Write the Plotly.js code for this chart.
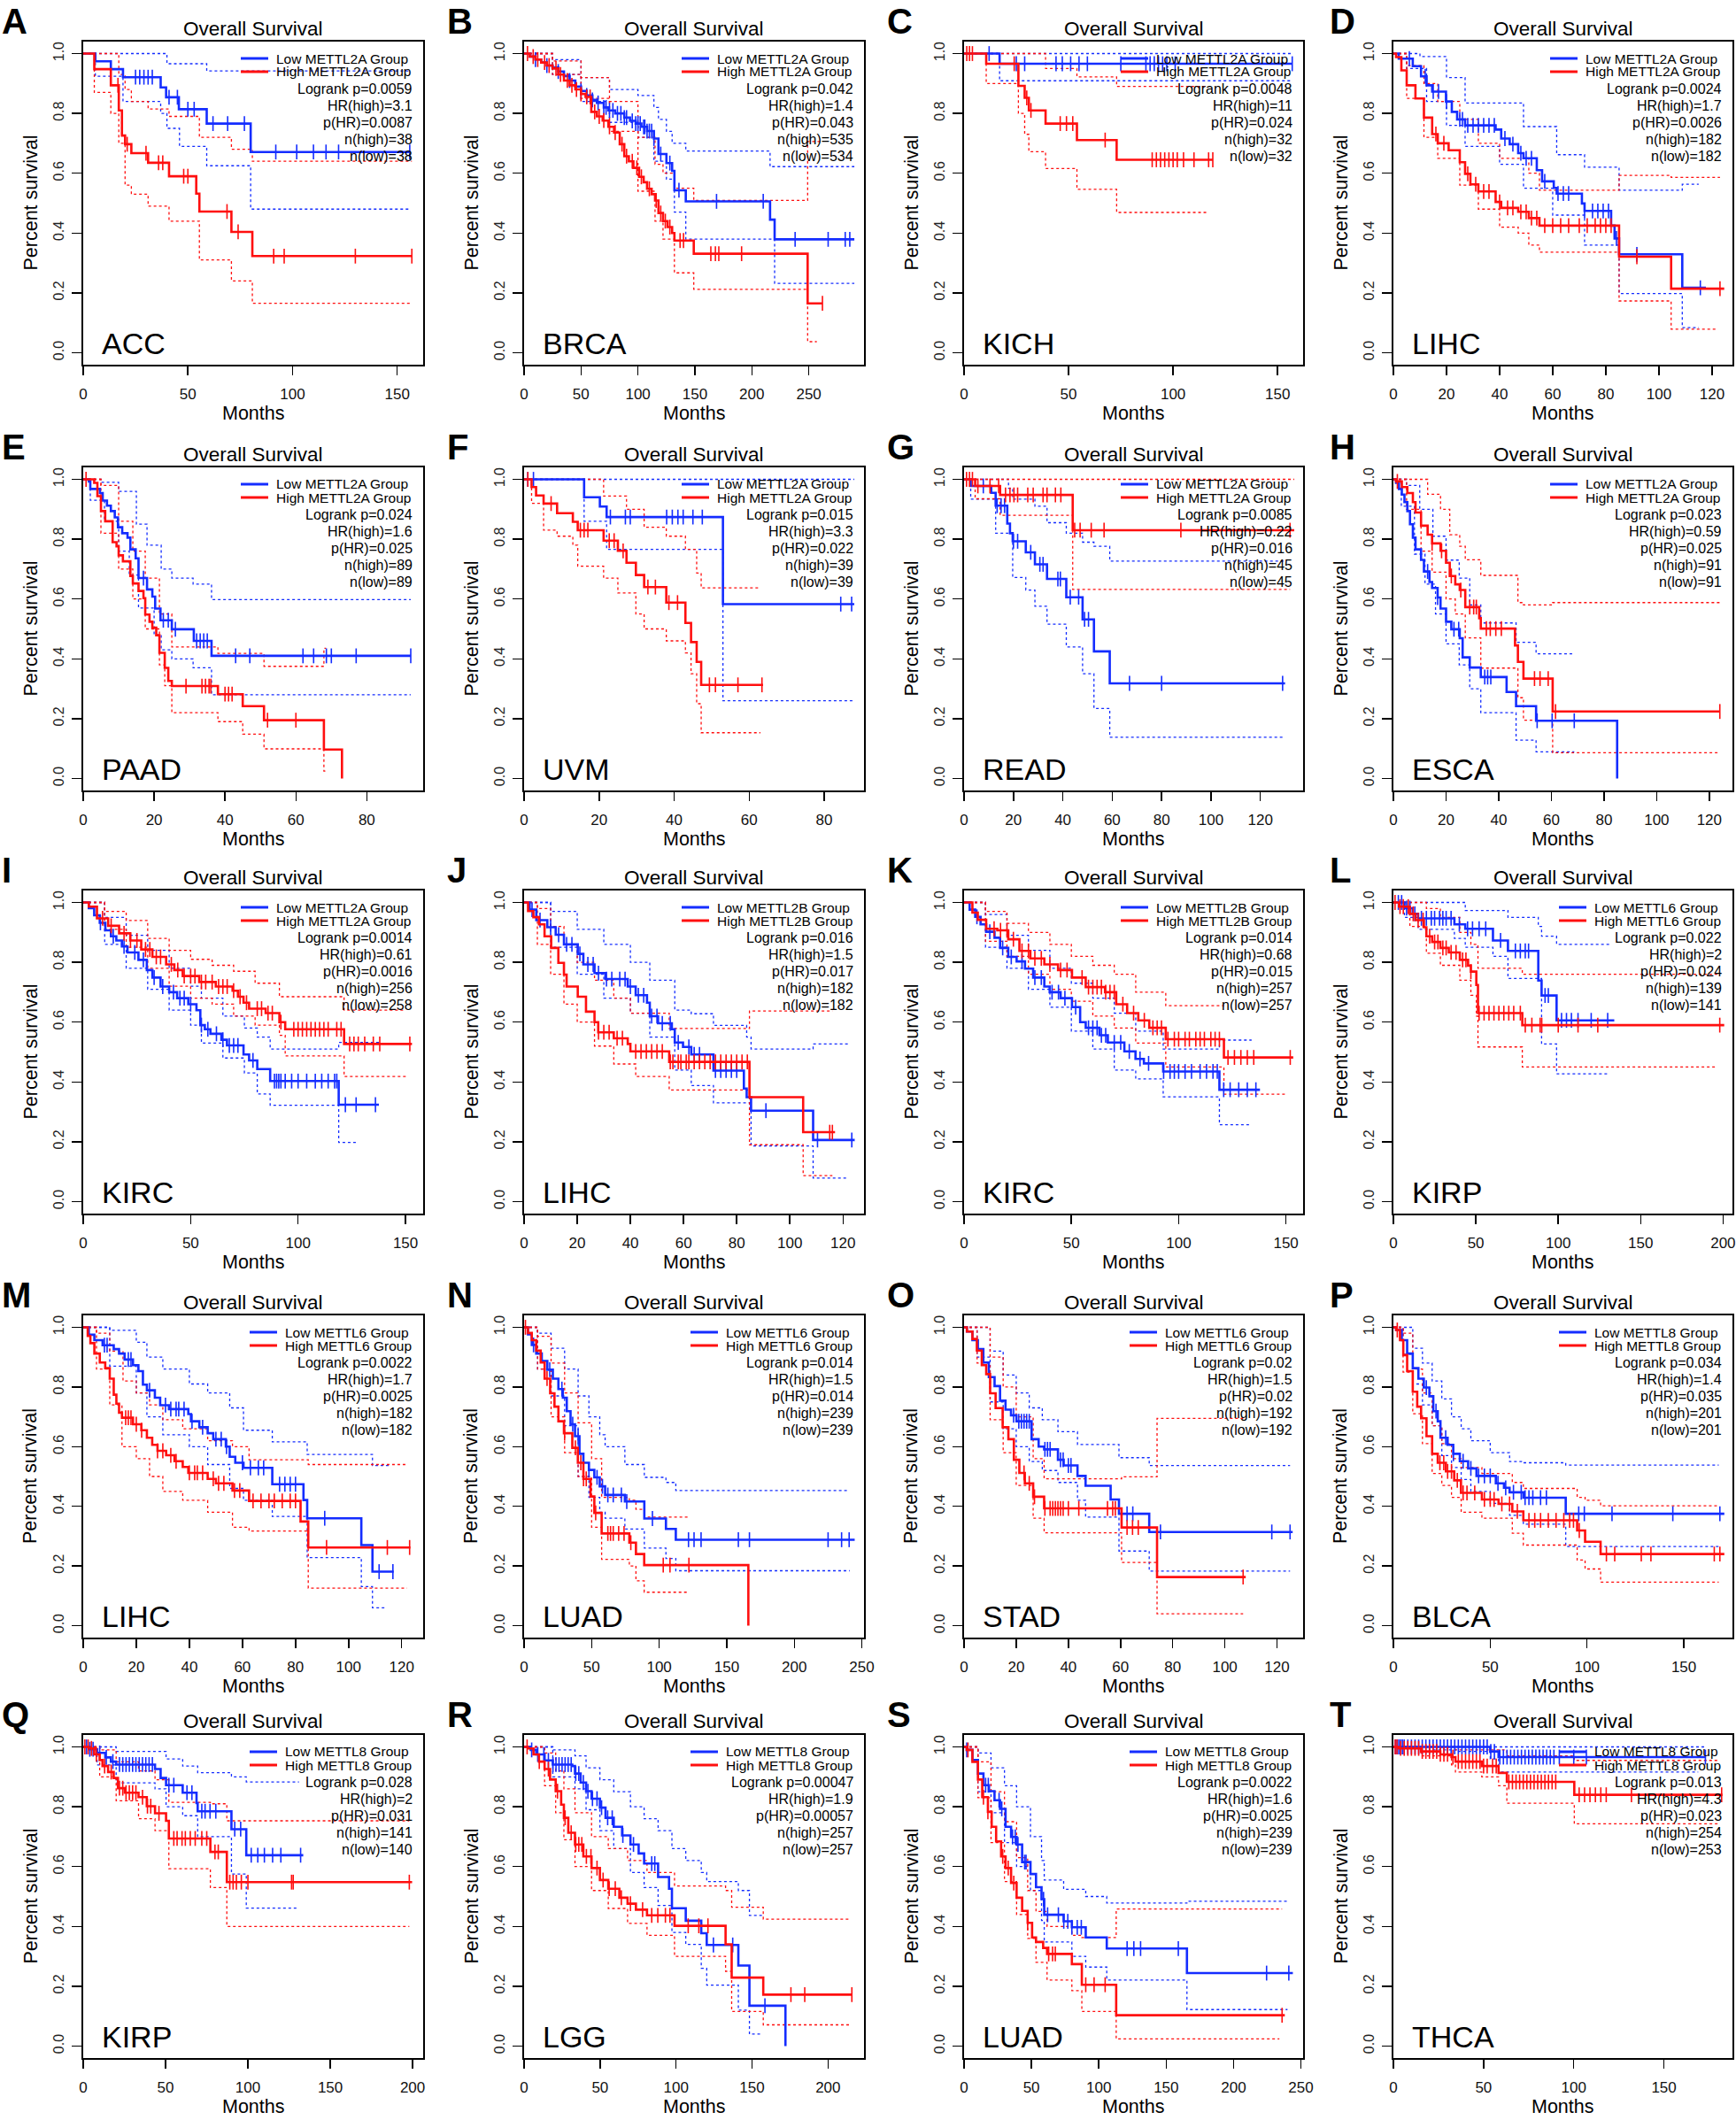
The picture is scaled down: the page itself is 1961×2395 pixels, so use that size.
<!DOCTYPE html>
<html>
<head>
<meta charset="utf-8">
<script src="https://cdn.plot.ly/plotly-3.0.1.min.js"></script>
<style>
  html, body { margin: 0; padding: 0; background: #fff; }
  #fig { width: 1961px; height: 2395px; }
</style>
</head>
<body>
<div id="fig"></div>
<script>
// ---- KM curves: [month, survival after step]; censor months; CI bounds ----
// A  ACC (METTL2A)
var aLow = [[0,1],[5.8,0.974],[13.2,0.948],[19,0.921],[37,0.887],[39.6,0.854],[45.7,0.814],[59,0.766],[80,0.671],[156,0.671]];
var aLowCens = [25,27,29,31,33,41,45,50,53,62,69,77,92,102,110,116,122,156];
var aHigh = [[0,1],[5.3,0.948],[13.2,0.894],[17,0.81],[18.5,0.726],[20,0.697],[23,0.667],[31,0.635],[41,0.59],[54,0.532],[55.5,0.472],[70.8,0.404],[80.8,0.323],[157,0.323]];
var aHighCens = [16.6,21,30,36,38,48,50,68.7,74,91,96,130,157];
var aLowUp = [[0,1],[40,0.966],[59,0.942],[156,0.942]];
var aLowDn = [[0,1],[5.8,0.924],[19,0.84],[37,0.8],[40,0.75],[46,0.69],[59,0.625],[80,0.48],[156,0.48]];
var aHighUp = [[0,1],[17,0.93],[20,0.88],[23,0.84],[31,0.815],[41,0.79],[55.5,0.72],[70.8,0.68],[80.8,0.64],[157,0.64]];
var aHighDn = [[0,1],[5.3,0.87],[13.2,0.8],[17,0.7],[20,0.56],[23,0.53],[31,0.49],[41,0.44],[55.5,0.31],[70.8,0.24],[80.8,0.165],[157,0.165]];

// B  BRCA (METTL2A)
var bLow = [[0,1],[5,0.99],[10,0.98],[15,0.97],[20,0.96],[25,0.953],[30,0.94],[35,0.925],[40,0.91],[45,0.89],[50,0.875],[55,0.86],[60,0.845],[64,0.835],[70,0.82],[74,0.81],[80,0.8],[88,0.786],[93,0.775],[98,0.766],[103,0.755],[108,0.741],[114,0.716],[118,0.664],[125,0.634],[130,0.608],[132,0.543],[142,0.506],[216,0.445],[220,0.379],[290,0.379]];
var bLowCens = [10,20,30,40,50,55,60,65,70,72,75,78,82,85,88,90,95,98,100,102,105,106,108,110,112,114,120,128,136,169,210,238,267,282,286];
var bHigh = [[0,1],[5,0.99],[10,0.98],[15,0.97],[20,0.96],[25,0.95],[30,0.93],[35,0.91],[40,0.894],[45,0.88],[50,0.865],[54,0.855],[59,0.805],[64,0.79],[69,0.776],[74,0.755],[79,0.736],[84,0.697],[88,0.657],[92,0.64],[96,0.618],[101,0.588],[105,0.57],[108,0.548],[112,0.53],[115,0.509],[118,0.467],[122,0.44],[126,0.42],[130,0.4],[132,0.375],[149,0.331],[249,0.165],[262,0.165]];
var bHighCens = [3,8,12,18,22,28,32,38,42,46,50,55,58,62,66,70,75,80,86,90,95,99,103,110,116,120,124,128,137,140,164,168,171,191,262];
var bLowUp = [[0,1],[25,0.98],[50,0.92],[75,0.88],[100,0.86],[114,0.82],[118,0.78],[125,0.74],[130,0.7],[142,0.674],[216,0.622],[290,0.622]];
var bLowDn = [[0,1],[25,0.93],[50,0.84],[75,0.77],[100,0.72],[114,0.64],[125,0.58],[132,0.47],[142,0.38],[220,0.232],[290,0.232]];
var bHighUp = [[0,1],[25,0.975],[50,0.92],[75,0.84],[100,0.72],[115,0.63],[122,0.6],[132,0.55],[149,0.509],[249,0.706],[262,0.706]];
var bHighDn = [[0,1],[25,0.93],[50,0.85],[75,0.74],[100,0.54],[115,0.44],[122,0.38],[132,0.267],[149,0.212],[249,0.037],[257,0.037]];

// C  KICH (METTL2A)
var cLow = [[0,1],[17,0.966],[157,0.966]];
var cLowCens = [12,25,29,44,47,51,55,59,75,87,89,91,93,95,97,101,157];
var cHigh = [[0,1],[10.6,0.966],[26,0.892],[29,0.852],[31,0.81],[39,0.766],[54,0.711],[73,0.645],[119,0.645]];
var cHighCens = [1.3,2.6,4,24,30,32,46,49,52,67.5,90,92,94,96,98,100,102,105,110,117,119];
var cLowUp = [[0,1],[157,1]];
var cLowDn = [[0,1],[17,0.909],[157,0.909]];
var cHighUp = [[0,1],[39,0.95],[54,0.922],[73,0.89],[116,0.89]];
var cHighDn = [[0,1],[10.6,0.9],[26,0.8],[29,0.73],[31,0.672],[39,0.616],[54,0.546],[73,0.469],[116,0.469]];

// D  LIHC (METTL2A)
var dLow = [[0,1],[2,0.983],[7.3,0.958],[10.4,0.924],[12.5,0.894],[14.6,0.873],[19.8,0.84],[22,0.805],[24,0.78],[27,0.76],[38.5,0.746],[40.6,0.716],[43.8,0.697],[47,0.667],[49,0.65],[54,0.61],[56,0.573],[60.4,0.551],[61.5,0.532],[71,0.499],[72,0.474],[82,0.425],[83.3,0.382],[85,0.329],[108.8,0.217],[117.7,0.217]];
var dLowCens = [6,12,15,17,20,25,26,28,30,32,34,36,38,42,45,48,50,52,57,62,64,66,72,75,77,79,81,84,91.7,115.6];
var dHigh = [[0,1],[1,0.988],[3,0.944],[5,0.894],[8.3,0.85],[11.5,0.786],[14.6,0.731],[16.7,0.7],[20.8,0.677],[25,0.637],[27,0.598],[29,0.563],[32,0.539],[38.5,0.504],[40.6,0.484],[47,0.471],[51,0.45],[55,0.425],[85,0.321],[104.6,0.214],[124.6,0.214]];
var dHighCens = [16,19,28,31,34,36,40,43,45,48,50,52,54,57,60,63,66,70,73,76,78,80,82,91.7,123];
var dLowUp = [[0,1],[10,0.99],[20,0.92],[27,0.835],[38.5,0.835],[49,0.756],[61.5,0.662],[72,0.62],[85,0.543],[108.8,0.563],[115,0.563]];
var dLowDn = [[0,1],[5,0.95],[12.5,0.84],[20,0.76],[27,0.69],[40,0.63],[49,0.55],[60,0.46],[72,0.36],[85,0.198],[108.8,0.084],[115,0.084]];
var dHighUp = [[0,1],[5,0.96],[11.5,0.9],[16.7,0.84],[25,0.78],[32,0.7],[40,0.65],[51,0.6],[55,0.543],[85,0.593],[104.6,0.586],[123,0.586]];
var dHighDn = [[0,1],[5,0.85],[11.5,0.72],[16.7,0.65],[25,0.56],[32,0.48],[40,0.42],[47,0.4],[51,0.36],[55,0.336],[85,0.173],[104.6,0.079],[122,0.079]];

// E  PAAD (METTL2A)
var eLow = [[0,1],[1.6,0.993],[2,0.968],[4.7,0.954],[5.5,0.929],[6.7,0.912],[7.8,0.894],[8.9,0.873],[9.8,0.84],[11,0.82],[12.5,0.805],[13.3,0.766],[14.8,0.736],[15.6,0.67],[18,0.632],[19.5,0.608],[20.3,0.568],[21.8,0.529],[25,0.499],[31.2,0.46],[36.2,0.41],[92.4,0.41]];
var eLowCens = [17,22.6,24,26,32,33,34,35,43,47,62,65,68.6,70,77,92.4];
var eHigh = [[0,1],[3.1,0.988],[4,0.944],[5,0.894],[6.2,0.86],[8.3,0.79],[9.4,0.776],[10,0.746],[11.2,0.726],[13.3,0.677],[14,0.652],[15.6,0.627],[17,0.603],[17.5,0.548],[18.7,0.524],[19.5,0.504],[20.6,0.479],[21.5,0.42],[23,0.37],[24,0.326],[25,0.309],[38,0.282],[45,0.242],[51,0.195],[67.9,0.097],[73,0]];
var eHighCens = [0.8,29,33.5,34.5,35.5,36,40,41,42,52,60];
var eLowUp = [[0,1],[5,0.99],[10,0.96],[15,0.85],[18,0.78],[22,0.7],[25,0.67],[31,0.65],[36.2,0.598],[92.4,0.598]];
var eLowDn = [[0,1],[2,0.93],[6,0.86],[10,0.76],[13,0.68],[15.6,0.57],[20,0.48],[22,0.43],[25,0.4],[31,0.37],[36.2,0.28],[92.4,0.28]];
var eHighUp = [[0,1],[5,0.98],[10,0.86],[14,0.76],[17.5,0.67],[21.5,0.55],[25,0.44],[38,0.418],[51,0.375],[67.9,0.435],[68.5,0.435]];
var eHighDn = [[0,1],[5,0.82],[10,0.7],[14,0.6],[17.5,0.5],[21.5,0.38],[23,0.31],[25,0.22],[38,0.19],[45,0.148],[51,0.099],[67.9,0.025],[68.5,0.025]];

// F  UVM (METTL2A)
var fLow = [[0,1],[16,0.94],[20.2,0.909],[22,0.874],[53,0.583],[88,0.583]];
var fLowCens = [1,2.5,23,27,28.3,38,39.5,41,42.4,45,47.5,84.4,87.3];
var fHigh = [[0,1],[2,0.974],[3.2,0.946],[5.2,0.919],[8.8,0.887],[13,0.858],[14.3,0.83],[21.2,0.795],[25,0.761],[27.3,0.721],[29.8,0.68],[32,0.64],[37.9,0.588],[43,0.52],[44.5,0.456],[46,0.39],[47.2,0.313],[63.7,0.313]];
var fHighCens = [1,7.2,15,16,17,22.7,24,26.4,33,35,38.6,40.9,49.4,51,57,63.4];
var fLowUp = [[0,1],[88,1]];
var fLowDn = [[0,1],[16,0.86],[22,0.766],[53,0.26],[88,0.26]];
var fHighUp = [[0,1],[13,1],[21.2,0.944],[27.3,0.9],[32,0.84],[37.9,0.81],[43,0.766],[46,0.687],[47.2,0.637],[62.5,0.637]];
var fHighDn = [[0,1],[2,0.92],[5.2,0.83],[8.8,0.81],[13,0.78],[14.3,0.71],[21.2,0.67],[25,0.62],[29.8,0.55],[32,0.5],[37.9,0.46],[43,0.42],[44.5,0.35],[46,0.25],[47.2,0.153],[63,0.153]];

// G  READ (METTL2A)
var gLow = [[0,1],[2.7,0.978],[11,0.955],[12.8,0.912],[17.5,0.852],[18.6,0.82],[19.7,0.793],[25,0.756],[28.7,0.716],[33.6,0.667],[41.4,0.606],[48,0.532],[52.6,0.425],[59,0.318],[130,0.318]];
var gLowCens = [7.8,13.4,15,16.4,20,21.7,27,30.7,32,38,39,43,46.4,48.8,50.4,67,80,129];
var gHigh = [[0,1],[4.5,0.978],[14.6,0.948],[44,0.83],[133.7,0.83]];
var gHighCens = [1,2.2,3.4,5.6,10.5,14,16.8,18.6,20.2,21.7,25.8,28,32,33.6,37,39.2,44.8,47,51.5,56.7,87.8,132];
var gLowUp = [[0,1],[18,0.97],[19.7,0.934],[28.7,0.91],[33.6,0.855],[41.4,0.82],[48,0.79],[52.6,0.776],[59,0.727],[130,0.727]];
var gLowDn = [[0,1],[2.7,0.934],[12.8,0.82],[19.7,0.672],[25,0.63],[28.7,0.576],[33.6,0.516],[41.4,0.44],[48,0.35],[52.6,0.234],[59,0.138],[129,0.138]];
var gHighUp = [[0,1],[133.7,1]];
var gHighDn = [[0,1],[4.5,0.935],[14.6,0.88],[44,0.632],[132,0.632]];

// H  ESCA (METTL2A)
var hLow = [[0,1],[1,0.988],[2.1,0.968],[3.2,0.949],[4.2,0.924],[5.3,0.894],[6.3,0.85],[7.4,0.805],[8.4,0.766],[10.5,0.731],[11.6,0.692],[13.7,0.657],[14.7,0.637],[16.8,0.605],[17.9,0.568],[20,0.524],[22,0.499],[25.2,0.469],[26.3,0.405],[29,0.371],[33.2,0.339],[43,0.289],[46.6,0.242],[54.2,0.193],[85,0]];
var hLowCens = [13,16.8,23,24.8,34.7,35.8,37,54.6,60.3,68.7];
var hHigh = [[0,1],[1,0.993],[3.2,0.974],[5.3,0.954],[7.4,0.924],[8.4,0.889],[10.5,0.845],[13,0.815],[14.7,0.786],[17.9,0.761],[20,0.721],[21.4,0.677],[23.5,0.649],[25.2,0.63],[27.3,0.573],[32.6,0.536],[33.2,0.501],[46.2,0.445],[47.3,0.39],[49.4,0.334],[60.5,0.224],[124,0.224]];
var hHighCens = [1.5,14.7,18.3,22,25.6,29,30.5,31.5,35.3,36.8,38.9,41,53.6,55.7,58.8,61.6,124];
var hLowUp = [[0,1],[5,0.98],[10,0.9],[15,0.81],[20,0.73],[25,0.67],[29,0.58],[33.2,0.52],[46.6,0.455],[54.2,0.417],[68.7,0.417]];
var hLowDn = [[0,1],[3,0.91],[8,0.75],[12,0.65],[16,0.55],[20,0.45],[25,0.38],[29,0.3],[33.2,0.22],[46.6,0.128],[54.2,0.089],[68.7,0.089]];
var hHighUp = [[0,1],[5.3,1],[13,0.95],[17.9,0.9],[21.4,0.815],[25.2,0.776],[27.3,0.731],[33.2,0.679],[47.3,0.588],[49.4,0.58],[60.5,0.588],[124,0.588]];
var hHighDn = [[0,1],[5,0.9],[10.5,0.76],[14.7,0.69],[20,0.6],[23.5,0.55],[27.3,0.47],[33.2,0.369],[47.3,0.27],[49.4,0.195],[60.5,0.086],[124,0.086]];

// I  KIRC (METTL2A)
var iLow = [[0,1],[2.6,0.981],[5.1,0.957],[7.7,0.932],[10.3,0.907],[12.9,0.887],[15.4,0.873],[18,0.853],[20.6,0.833],[25.7,0.808],[29.6,0.774],[32.2,0.749],[36,0.719],[40,0.7],[43.7,0.68],[48.9,0.66],[52.7,0.64],[54.5,0.59],[56.6,0.576],[59.2,0.561],[64.3,0.541],[66.9,0.522],[74.6,0.492],[77.2,0.472],[81,0.443],[87,0.403],[118.9,0.324],[137.6,0.324]];
var iLowCens = [8,14,19,24,28,33,37,42,45,47,50,55,58,62,65,68,70,72,79,89,90,91,92,94,97,100,104,108,111,114,117,118,122,127,136];
var iHigh = [[0,1],[2.6,0.986],[6.4,0.947],[11.6,0.922],[16.7,0.897],[21.9,0.873],[27,0.843],[32.2,0.818],[38.6,0.793],[42.4,0.774],[46.3,0.754],[54,0.734],[61.7,0.719],[69.5,0.705],[72,0.685],[74.6,0.665],[77.2,0.645],[84.9,0.63],[91.3,0.6],[94,0.576],[121.4,0.527],[153,0.527]];
var iHighCens = [9,13,19,22,25,29,31,34,36,41,44,47,50,52,55,57,60,63,65,67,70,73,76,81,83,86,88,92,98,100,102,104,106,108,110,112,114,118,120,124,126,128,131,135,138,152];
var iLowUp = [[0,1],[10,0.95],[20,0.89],[30,0.84],[40,0.78],[50,0.72],[55,0.68],[65,0.62],[75,0.58],[81,0.55],[87,0.51],[118.9,0.532],[137.6,0.532]];
var iLowDn = [[0,1],[10,0.86],[20,0.78],[30,0.71],[40,0.64],[50,0.59],[55,0.53],[65,0.48],[75,0.43],[81,0.36],[87,0.322],[118.9,0.198],[127,0.198]];
var iHighUp = [[0,1],[10,0.97],[20,0.94],[30,0.88],[40,0.84],[50,0.81],[60,0.79],[70,0.77],[80,0.73],[91.3,0.685],[121.4,0.64],[150,0.64]];
var iHighDn = [[0,1],[10,0.91],[20,0.85],[30,0.78],[40,0.72],[50,0.68],[60,0.66],[70,0.62],[80,0.59],[91.3,0.556],[94,0.487],[121.4,0.418],[151,0.418]];

// J  LIHC (METTL2B)
var jLow = [[0,1],[2.1,0.976],[4.6,0.941],[8.75,0.917],[11.9,0.892],[15,0.86],[20.2,0.828],[22.3,0.793],[26.5,0.764],[30.6,0.744],[39,0.719],[42,0.69],[46.25,0.665],[47.3,0.62],[50.4,0.596],[55.6,0.576],[56.7,0.532],[59.8,0.517],[62.9,0.492],[71.25,0.438],[82.7,0.378],[83.75,0.349],[85.4,0.304],[108.75,0.206],[124.4,0.206]];
var jLowCens = [3,6,10,13,16,18,21,24,26,28,31,33,36,38,40,43,45,48,50,52,55,58,62,64,66,72,74,76,78,80,91,110.4,123.3];
var jHigh = [[0,1],[1.5,0.971],[3.5,0.951],[5.6,0.927],[7.7,0.887],[10.2,0.848],[12.9,0.798],[15,0.759],[16,0.719],[20.2,0.685],[23.3,0.635],[26.5,0.6],[27.9,0.566],[33.75,0.546],[39,0.527],[40,0.502],[54.6,0.467],[84.8,0.349],[105,0.232],[117,0.232]];
var jHighCens = [28,30,32,35,37,42,44,46,48,50,52,55,56,58,59,61,62,64,66,68,70,72,74,76,78,80,82,84,115,116];
var jLowUp = [[0,1],[10,0.97],[20,0.91],[30,0.86],[40,0.8],[47.3,0.74],[56.7,0.64],[62.9,0.628],[71.25,0.589],[83.75,0.55],[85.4,0.51],[108.75,0.527],[122,0.527]];
var jLowDn = [[0,1],[10,0.85],[20,0.76],[30,0.68],[40,0.63],[47.3,0.55],[56.7,0.44],[62.9,0.388],[71.25,0.33],[85.4,0.186],[108.75,0.079],[122,0.079]];
var jHighUp = [[0,1],[5,0.98],[10,0.92],[15,0.86],[20,0.8],[26.5,0.74],[33.75,0.68],[40,0.63],[54.6,0.579],[84.8,0.637],[116,0.637]];
var jHighDn = [[0,1],[5,0.86],[10,0.76],[15,0.66],[20,0.6],[26.5,0.52],[33.75,0.46],[42,0.418],[54.6,0.373],[84.8,0.19],[105,0.087],[116,0.087]];

// K  KIRC (METTL2B)
var kLow = [[0,1],[2.6,0.976],[5.2,0.952],[7.7,0.927],[10.3,0.902],[14.2,0.882],[16.8,0.848],[20.6,0.818],[24.5,0.803],[28.4,0.779],[32.2,0.749],[37.4,0.719],[39.9,0.7],[45,0.68],[50.3,0.65],[54.1,0.6],[56.7,0.581],[63.1,0.556],[67,0.532],[74.7,0.502],[79.9,0.477],[83.8,0.462],[92.8,0.435],[119,0.374],[137.9,0.374]];
var kLowCens = [6,12,18,22,27,33,36,41,44,47,52,58,60,62,64,66,70,73,77,82,86,93,96,98,100,103,106,110,113,116,118,121,124,128,132,136];
var kHigh = [[0,1],[3.9,0.966],[6.4,0.942],[10.3,0.912],[15.5,0.907],[20.6,0.877],[25.8,0.838],[30.9,0.813],[37.4,0.793],[43.8,0.774],[50.3,0.749],[56.7,0.717],[65.7,0.7],[70.9,0.66],[76,0.63],[81.2,0.606],[86.3,0.581],[94,0.543],[121.1,0.482],[153.4,0.482]];
var kHighCens = [14,17,20,23,27,30,33,36,40,45,48,55,58,60,62,64,66,68,70,74,79,84,88,90,92,95,98,100,103,105,108,110,112,115,117,119,123,126,129,132,135,152];
var kLowUp = [[0,1],[10,0.96],[20,0.89],[30,0.84],[40,0.78],[50,0.73],[60,0.68],[70,0.63],[80,0.57],[92.8,0.51],[119,0.54],[134,0.54]];
var kLowDn = [[0,1],[10,0.85],[20,0.78],[30,0.71],[40,0.65],[50,0.57],[60,0.51],[70,0.44],[80,0.41],[92.8,0.35],[119,0.257],[134,0.257]];
var kHighUp = [[0,1],[10,0.97],[20,0.93],[30,0.9],[40,0.86],[50,0.82],[60,0.79],[70,0.76],[80,0.7],[94,0.655],[121.1,0.655]];
var kHighDn = [[0,1],[10,0.87],[20,0.82],[30,0.76],[40,0.71],[50,0.67],[60,0.62],[70,0.58],[80,0.53],[94,0.45],[121.1,0.359],[150,0.359]];

// L  KIRP (METTL6)
var lLow = [[0,1],[6.7,0.981],[11.7,0.962],[15,0.947],[37,0.927],[43.6,0.912],[60.4,0.873],[69.5,0.838],[87.9,0.739],[89.9,0.689],[99,0.606],[134,0.606]];
var lLowCens = [3,5,8,10,13,17,20,23,25,28,30,32,35,40,45,48,52,56,65,74,77,80,82,92,94,102,105,108,112,120,130];
var lHigh = [[0,1],[3.4,0.986],[10,0.962],[13.4,0.941],[18.5,0.917],[20,0.887],[23.5,0.868],[28.5,0.848],[33.6,0.833],[40.3,0.808],[45.3,0.789],[47,0.769],[50.3,0.724],[51.3,0.63],[78.2,0.59],[200.7,0.59]];
var lHighCens = [1,4,6,9,12,15,18,22,25,27,30,32,35,38,42,44,47,52,55,58,61,64,67,70,73,77,80,84,89,90,100,112,124,198];
var lLowUp = [[0,1],[15,1],[43.6,0.973],[69.5,0.95],[87.9,0.92],[89.9,0.887],[99,0.86],[131,0.86]];
var lLowDn = [[0,1],[6.7,0.95],[15,0.91],[37,0.88],[43.6,0.85],[60.4,0.82],[69.5,0.746],[89.9,0.527],[99,0.427],[131,0.427]];
var lHighUp = [[0,1],[20,0.98],[28.5,0.95],[40.3,0.9],[47,0.86],[51.3,0.78],[78.2,0.76],[197,0.76]];
var lHighDn = [[0,1],[10,0.92],[20,0.83],[28.5,0.79],[40.3,0.74],[47,0.69],[50.3,0.62],[51.3,0.517],[78.2,0.45],[196,0.45]];

// M  LIHC (METTL6)
var mLow = [[0,1],[2.1,0.975],[4.2,0.957],[7.3,0.94],[11.5,0.927],[13.5,0.912],[15.6,0.892],[18.75,0.873],[20.8,0.853],[22.5,0.808],[24,0.789],[27,0.764],[29,0.739],[32.3,0.726],[39.6,0.709],[40.6,0.685],[43.75,0.665],[46.9,0.645],[49,0.625],[53.75,0.6],[55.2,0.566],[57.3,0.546],[60.4,0.529],[71.25,0.474],[83,0.421],[84.4,0.36],[104.8,0.27],[109,0.181],[117,0.181]];
var mLowCens = [8,9,17,18,25,31,33,35,36,38,41,45,50,52,54,60,63,66,68,74,76,78,80,91,111.5,116.7];
var mHigh = [[0,1],[1.7,0.971],[2.7,0.947],[4.2,0.912],[6.25,0.882],[8.3,0.863],[10,0.828],[11.5,0.774],[12.5,0.744],[13.5,0.714],[14.6,0.697],[18.75,0.675],[21.9,0.655],[24,0.63],[26,0.606],[28,0.586],[31.25,0.571],[34.4,0.551],[37.5,0.532],[39.6,0.512],[46.9,0.492],[50,0.477],[56.25,0.453],[62.5,0.418],[81.9,0.349],[84.8,0.262],[123.3,0.262]];
var mHighCens = [16,17,18,20,22,28,30,33,35,40,42,43,45,49,51,53,57,59,64,67,70,72,75,78,80,91.7,114.6,123];
var mLowUp = [[0,1],[10,0.99],[20,0.95],[24,0.9],[30,0.86],[40,0.81],[46.9,0.78],[55.2,0.73],[60.4,0.655],[71.25,0.616],[84.4,0.574],[104.8,0.574],[109,0.537],[116,0.537]];
var mLowDn = [[0,1],[10,0.87],[20,0.78],[24,0.7],[30,0.64],[40,0.6],[46.9,0.54],[55.2,0.46],[60.4,0.42],[71.25,0.366],[84.4,0.228],[104.8,0.131],[109,0.06],[114,0.06]];
var mHighUp = [[0,1],[5,0.98],[10,0.92],[15,0.82],[20,0.78],[25,0.74],[30,0.69],[37.5,0.66],[46.9,0.62],[56.25,0.6],[62.5,0.556],[84.8,0.54],[122,0.54]];
var mHighDn = [[0,1],[5,0.86],[10,0.74],[14.6,0.6],[20,0.56],[25,0.5],[30,0.45],[37.5,0.42],[46.9,0.38],[56.25,0.33],[62.5,0.317],[84.8,0.126],[122,0.126]];

// N  LUAD (METTL6)
var nLow = [[0,1],[2.9,0.976],[5.7,0.941],[9,0.912],[13.1,0.887],[17.2,0.858],[21.3,0.828],[25.4,0.793],[28.7,0.764],[31.6,0.719],[34.4,0.675],[37.7,0.635],[41,0.576],[43.9,0.546],[48,0.522],[52,0.497],[56,0.467],[60,0.438],[74.6,0.416],[89,0.359],[105,0.324],[112.3,0.288],[244.7,0.288]];
var nLowCens = [7,19,28,36,40,44,48,54,58,62,66,72,76,95,121.7,125.8,131,158.6,166.8,225,235,240.6];
var nHigh = [[0,1],[2.9,0.981],[5.7,0.957],[9,0.922],[12.3,0.882],[15.2,0.828],[19.3,0.779],[22.5,0.734],[25.4,0.685],[29.5,0.645],[35.7,0.596],[39.8,0.546],[43.9,0.492],[49.2,0.433],[52,0.378],[57.4,0.309],[77.9,0.278],[82.8,0.24],[88.9,0.203],[166,0]];
var nHighCens = [1,17,30,38,42,44,46,53,62,64,66,70,74,79,103,108,122];
var nLowUp = [[0,1],[10,0.98],[20,0.93],[30,0.86],[40,0.77],[48,0.7],[56,0.64],[60,0.6],[74.6,0.54],[89,0.497],[105,0.48],[112.3,0.453],[240,0.453]];
var nLowDn = [[0,1],[10,0.86],[20,0.77],[30,0.67],[40,0.5],[48,0.43],[56,0.38],[60,0.36],[74.6,0.324],[89,0.26],[105,0.225],[112.3,0.184],[241,0.184]];
var nHighUp = [[0,1],[10,0.97],[20,0.88],[30,0.78],[40,0.68],[50,0.56],[57.4,0.43],[77.9,0.42],[82.8,0.39],[88.9,0.364],[122,0.364]];
var nHighDn = [[0,1],[10,0.86],[20,0.7],[30,0.58],[40,0.5],[50,0.33],[57.4,0.222],[77.9,0.2],[82.8,0.15],[88.9,0.112],[122,0.112]];

// O  STAD (METTL6)
var oLow = [[0,1],[1.1,0.986],[3.2,0.957],[5.3,0.927],[7.4,0.882],[9.5,0.833],[11.7,0.803],[13.8,0.754],[15.9,0.724],[18,0.705],[20.1,0.685],[25.9,0.625],[28.6,0.6],[30.7,0.591],[36,0.556],[38.2,0.537],[43.5,0.502],[46.6,0.469],[56.2,0.423],[59.4,0.375],[71,0.314],[126,0.314]];
var oLowCens = [19,21,22,23,24,25,31,32,33,37,38,40,41,62.5,64.7,75.3,118,125];
var oHigh = [[0,1],[1.1,0.986],[3.2,0.961],[4.9,0.922],[6.8,0.873],[8.5,0.843],[10,0.779],[12.1,0.729],[14.8,0.665],[17,0.625],[19.1,0.556],[21.2,0.512],[23.3,0.477],[26.5,0.432],[30.7,0.393],[60.4,0.329],[74,0.163],[108,0.163]];
var oHighCens = [23,25,27,31,33,34,35,36,37,38,40,44,55,57,58,62.5,64.6,66.8,107];
var oLowUp = [[0,1],[5,1],[10,0.92],[15,0.84],[20,0.78],[25,0.73],[30,0.69],[36,0.65],[43.5,0.607],[59.4,0.563],[71,0.537],[125,0.537]];
var oLowDn = [[0,1],[5,0.9],[10,0.75],[15,0.66],[20,0.6],[25,0.55],[30,0.52],[36,0.48],[43.5,0.42],[46.6,0.364],[59.4,0.25],[71,0.183],[125,0.183]];
var oHighUp = [[0,1],[5,1],[10,0.9],[15,0.8],[20,0.7],[26.5,0.56],[30.7,0.492],[60.4,0.499],[74,0.695],[107,0.695]];
var oHighDn = [[0,1],[5,0.88],[10,0.69],[15,0.58],[20,0.47],[26.5,0.36],[30.7,0.311],[60.4,0.212],[74,0.04],[107,0.04]];

// P  BLCA (METTL8)
var pLow = [[0,1],[1.4,0.991],[4.3,0.957],[7.1,0.912],[10,0.863],[12.9,0.828],[15.7,0.798],[18.6,0.769],[20.6,0.719],[22.9,0.685],[24.3,0.63],[28,0.606],[30.9,0.576],[34.3,0.551],[38.6,0.527],[42.9,0.502],[52.9,0.477],[57.1,0.462],[60,0.447],[67.1,0.429],[89,0.375],[170.9,0.375]];
var pLowCens = [17,22,27,31,36,40,44,47,50,54,58,62,66,68,70,72,76,79,95.7,98.6,112.9,144.3,168.6];
var pHigh = [[0,1],[1.4,0.991],[3.4,0.957],[5.1,0.907],[7.1,0.853],[10,0.784],[12.3,0.734],[14.3,0.695],[17.1,0.635],[20,0.576],[22.9,0.546],[27.1,0.517],[31.4,0.487],[34.9,0.445],[45.7,0.423],[54.3,0.408],[61.4,0.383],[67.1,0.353],[94.9,0.319],[99,0.281],[107,0.24],[170.9,0.24]];
var pHighCens = [2,24,26,28,30,33,36,38,42,47,50,52,56,60,64,70,73,76,80,84,88,91,93,96,110,114.3,128,133,165.7,168.6];
var pLowUp = [[0,1],[5,1],[10,0.93],[15,0.88],[20,0.82],[25,0.76],[30,0.7],[35,0.66],[40,0.62],[50,0.58],[60,0.55],[67.1,0.546],[89,0.538],[168,0.538]];
var pLowDn = [[0,1],[5,0.91],[10,0.81],[15,0.74],[20,0.67],[25,0.57],[30,0.53],[35,0.49],[40,0.45],[50,0.41],[60,0.37],[67.1,0.34],[89,0.265],[168,0.265]];
var pHighUp = [[0,1],[5,0.98],[10,0.86],[15,0.78],[20,0.67],[25,0.61],[30,0.56],[35,0.53],[45.7,0.51],[61.4,0.48],[67.1,0.46],[94.9,0.43],[99,0.42],[107,0.402],[168,0.402]];
var pHighDn = [[0,1],[5,0.85],[10,0.71],[15,0.61],[20,0.51],[25,0.47],[30,0.43],[35,0.38],[45.7,0.36],[61.4,0.31],[67.1,0.27],[94.9,0.22],[99,0.19],[107,0.146],[168,0.146]];

// Q  KIRP (METTL8)
var qLow = [[0,1],[3.4,0.992],[8.4,0.98],[13.4,0.965],[16.8,0.951],[20,0.941],[43.6,0.926],[47,0.896],[50.3,0.872],[60.4,0.847],[68.8,0.812],[69.5,0.785],[90,0.725],[99,0.638],[133.6,0.638]];
var qLowCens = [2,4,6,10,14,18,22,24,26,28,30,32,34,36,38,40,42,52,55,63,66,72,74,77,80.5,92,95.6,102,106,110,115,120,132];
var qHigh = [[0,1],[3.4,0.995],[6.7,0.975],[10,0.956],[11.7,0.936],[15.1,0.916],[18.5,0.896],[21.1,0.862],[25.2,0.847],[33.6,0.832],[38.6,0.802],[43.6,0.778],[50.3,0.753],[52,0.694],[77.2,0.649],[87.2,0.548],[199.7,0.548]];
var qHighCens = [1,3,5,8,13,17,22,24,26,28,30,32,36,39,41,46,55,57,60,62,65,68,72,75,80,82,89,91,93,96,100,126.5,127.5,198];
var qLowUp = [[0,1],[16.8,1],[20,0.985],[50.3,0.96],[60.4,0.936],[69.5,0.914],[90,0.9],[99,0.883],[131,0.883]];
var qLowDn = [[0,1],[8.4,0.94],[20,0.88],[43.6,0.86],[50.3,0.8],[60.4,0.77],[69.5,0.7],[90,0.575],[99,0.461],[131,0.461]];
var qHighUp = [[0,1],[10,0.99],[20,0.95],[33.6,0.92],[43.6,0.89],[52,0.815],[77.2,0.81],[87.2,0.753],[198,0.753]];
var qHighDn = [[0,1],[10,0.9],[20,0.82],[33.6,0.76],[43.6,0.72],[52,0.593],[77.2,0.53],[87.2,0.4],[198,0.4]];

// R  LGG (METTL8)
var rLow = [[0,1],[4.4,0.99],[8,0.975],[13.5,0.955],[18.9,0.941],[31.7,0.936],[33.5,0.911],[37.2,0.881],[40.8,0.852],[44.4,0.827],[49.9,0.797],[53.6,0.763],[59,0.733],[64.5,0.704],[70,0.674],[75.4,0.644],[79,0.61],[88.2,0.565],[95.4,0.526],[97.3,0.461],[106.4,0.419],[116.6,0.377],[120.2,0.338],[141,0.269],[148.3,0.135],[172,0]];
var rLowCens = [5,9,13,16,19,21,23,25,27,29,31,34,36,39,42,45,48,51,55,58,65,72,84,86,124.6,137.3,158.5];
var rHigh = [[0,1],[2.5,0.995],[6.2,0.975],[9.8,0.951],[13.5,0.926],[17.1,0.891],[20.8,0.852],[24.4,0.807],[26.2,0.763],[29.1,0.713],[33.5,0.674],[39,0.634],[44.4,0.595],[49.9,0.555],[55.4,0.526],[62.7,0.496],[68.1,0.476],[73.6,0.456],[80.9,0.437],[99,0.402],[132.6,0.34],[136.6,0.229],[157.4,0.172],[215.7,0.172]];
var rHighCens = [2,10,16,22,27,31,34,36,38,41,44,48,52,56,60,64,70,78,84,88,93,96,108,115,121,175.6,184.7,215.7];
var rLowUp = [[0,1],[18.9,0.99],[33.5,0.97],[40.8,0.93],[49.9,0.89],[59,0.85],[70,0.8],[79,0.76],[88.2,0.72],[97.3,0.66],[106.4,0.62],[116.6,0.58],[120.2,0.55],[141,0.52],[148.3,0.437],[157,0.437]];
var rLowDn = [[0,1],[18.9,0.9],[33.5,0.86],[40.8,0.79],[49.9,0.72],[59,0.66],[70,0.58],[79,0.53],[88.2,0.47],[97.3,0.38],[106.4,0.34],[116.6,0.26],[120.2,0.204],[141,0.12],[148.3,0.04],[157,0.04]];
var rHighUp = [[0,1],[13.5,0.98],[20.8,0.92],[26.2,0.86],[33.5,0.78],[44.4,0.7],[55.4,0.66],[68.1,0.62],[80.9,0.58],[99,0.535],[132.6,0.52],[136.6,0.464],[157.4,0.424],[215,0.424]];
var rHighDn = [[0,1],[13.5,0.87],[20.8,0.78],[26.2,0.69],[33.5,0.6],[44.4,0.52],[55.4,0.46],[68.1,0.41],[80.9,0.37],[99,0.3],[132.6,0.25],[136.6,0.116],[157.4,0.071],[215,0.071]];

// S  LUAD (METTL8)
var sLow = [[0,1],[2,0.99],[6.2,0.956],[10.3,0.911],[14.4,0.872],[18.5,0.852],[22.6,0.822],[26.7,0.793],[30.8,0.733],[34.9,0.699],[39,0.674],[43.1,0.615],[49.3,0.575],[53.4,0.531],[57.5,0.491],[59.5,0.439],[73.9,0.417],[80,0.397],[90.3,0.363],[105.9,0.326],[165.4,0.244],[244,0.244]];
var sLowCens = [2,16,18,26,28,36,38,40,45,46,59,62,70,74,77,80,84,87,121,126,131,159,224.5,241];
var sHigh = [[0,1],[2,0.99],[6.2,0.95],[10.3,0.891],[13.5,0.832],[17.7,0.783],[20.5,0.733],[23.8,0.684],[27.5,0.634],[30.8,0.595],[34.9,0.545],[39,0.496],[43.1,0.452],[47.2,0.412],[50.5,0.363],[53.4,0.348],[58.7,0.328],[61.6,0.308],[80,0.274],[87.4,0.205],[112.9,0.103],[238,0.103]];
var sHighCens = [2.9,14.4,17.7,28.7,32.8,36.9,47.2,62.8,65.7,67.7,90.3,96.5,104.7,236];
var sLowUp = [[0,1],[10.3,0.98],[20,0.93],[30,0.87],[39,0.8],[49.3,0.7],[57.5,0.62],[59.5,0.555],[73.9,0.524],[90.3,0.5],[105.9,0.478],[165.4,0.484],[241,0.484]];
var sLowDn = [[0,1],[10.3,0.85],[20,0.78],[30,0.68],[39,0.6],[49.3,0.52],[57.5,0.42],[59.5,0.348],[80,0.3],[90.3,0.264],[105.9,0.221],[165.4,0.122],[240,0.122]];
var sHighUp = [[0,1],[10.3,0.95],[20,0.85],[30,0.75],[39,0.63],[47.2,0.52],[53.4,0.45],[61.6,0.4],[80,0.37],[87.4,0.363],[112.9,0.458],[236,0.458]];
var sHighDn = [[0,1],[10.3,0.83],[20,0.68],[30,0.55],[39,0.44],[47.2,0.36],[53.4,0.28],[61.6,0.221],[80,0.185],[87.4,0.116],[112.9,0.024],[234,0.024]];

// T  THCA (METTL8)
var tLow = [[0,1],[53.7,0.985],[58.3,0.966],[173.3,0.966]];
var tLowCens = [1,2,3,4,5,6,8,10,12,14,16,18,20,22,24,26,28,30,32,34,36,38,40,42,44,46,48,50,52,54,56,59,61,63,65,67,69,71,73,75,77,79,81,83,85,87,89,92,100,107,173];
var tHigh = [[0,1],[3,0.995],[15.3,0.985],[26,0.975],[32.2,0.966],[34.4,0.951],[49,0.936],[58.3,0.913],[62.9,0.883],[100.3,0.84],[182.5,0.84]];
var tHighCens = [1,2,4,6,8,10,12,14,16,18,20,22,24,26,28,30,33,36,38,40,42,44,46,48,50,52,55,57,64,66,68,70,72,74,76,78,80,82,84,86,88,90,103,106,109,112,115,118,132,182];
var tLowUp = [[0,1],[173,1]];
var tLowDn = [[0,1],[20,0.99],[35,0.985],[53.7,0.96],[58.3,0.916],[169,0.916]];
var tHighUp = [[0,1],[34.4,0.99],[62.9,0.97],[100.3,0.955],[180,0.955]];
var tHighDn = [[0,1],[15.3,0.97],[32.2,0.94],[34.4,0.916],[49,0.9],[58.3,0.87],[62.9,0.812],[100.3,0.743],[180,0.743]];

// ---- panel texts ----
var panelLetters = ['A','B','C','D','E','F','G','H','I','J','K','L','M','N','O','P','Q','R','S','T'];
var cancerTypes = ['ACC','BRCA','KICH','LIHC','PAAD','UVM','READ','ESCA','KIRC','LIHC','KIRC','KIRP','LIHC','LUAD','STAD','BLCA','KIRP','LGG','LUAD','THCA'];
var geneNames = ['METTL2A','METTL2A','METTL2A','METTL2A','METTL2A','METTL2A','METTL2A','METTL2A','METTL2A','METTL2B','METTL2B','METTL6','METTL6','METTL6','METTL6','METTL8','METTL8','METTL8','METTL8','METTL8'];
var logrankP = ['0.0059','0.042','0.0048','0.0024','0.024','0.015','0.0085','0.023','0.0014','0.016','0.014','0.022','0.0022','0.014','0.02','0.034','0.028','0.00047','0.0022','0.013'];
var hrHigh = ['3.1','1.4','11','1.7','1.6','3.3','0.22','0.59','0.61','1.5','0.68','2','1.7','1.5','1.5','1.4','2','1.9','1.6','4.3'];
var pHR = ['0.0087','0.043','0.024','0.0026','0.025','0.022','0.016','0.025','0.0016','0.017','0.015','0.024','0.0025','0.014','0.02','0.035','0.031','0.00057','0.0025','0.023'];
var nHighCount = ['38','535','32','182','89','39','45','91','256','182','257','139','182','239','192','201','141','257','239','254'];
var nLowCount = ['38','534','32','182','89','39','45','91','258','182','257','141','182','239','192','201','140','257','239','253'];
var xMaxMonths = [162.4,298.5,162.2,127.7,95.9,90.6,137.3,128.8,158.2,127.9,158,205.7,128.1,251.6,130,175.1,206.4,223.7,251.6,188];
var xTickStep = [50,50,50,20,20,20,20,20,50,20,50,50,20,50,20,50,50,50,50,50];

var lowCurves = [aLow,bLow,cLow,dLow,eLow,fLow,gLow,hLow,iLow,jLow,kLow,lLow,mLow,nLow,oLow,pLow,qLow,rLow,sLow,tLow];
var highCurves = [aHigh,bHigh,cHigh,dHigh,eHigh,fHigh,gHigh,hHigh,iHigh,jHigh,kHigh,lHigh,mHigh,nHigh,oHigh,pHigh,qHigh,rHigh,sHigh,tHigh];
var lowCens = [aLowCens,bLowCens,cLowCens,dLowCens,eLowCens,fLowCens,gLowCens,hLowCens,iLowCens,jLowCens,kLowCens,lLowCens,mLowCens,nLowCens,oLowCens,pLowCens,qLowCens,rLowCens,sLowCens,tLowCens];
var highCens = [aHighCens,bHighCens,cHighCens,dHighCens,eHighCens,fHighCens,gHighCens,hHighCens,iHighCens,jHighCens,kHighCens,lHighCens,mHighCens,nHighCens,oHighCens,pHighCens,qHighCens,rHighCens,sHighCens,tHighCens];
var lowUps = [aLowUp,bLowUp,cLowUp,dLowUp,eLowUp,fLowUp,gLowUp,hLowUp,iLowUp,jLowUp,kLowUp,lLowUp,mLowUp,nLowUp,oLowUp,pLowUp,qLowUp,rLowUp,sLowUp,tLowUp];
var lowDns = [aLowDn,bLowDn,cLowDn,dLowDn,eLowDn,fLowDn,gLowDn,hLowDn,iLowDn,jLowDn,kLowDn,lLowDn,mLowDn,nLowDn,oLowDn,pLowDn,qLowDn,rLowDn,sLowDn,tLowDn];
var highUps = [aHighUp,bHighUp,cHighUp,dHighUp,eHighUp,fHighUp,gHighUp,hHighUp,iHighUp,jHighUp,kHighUp,lHighUp,mHighUp,nHighUp,oHighUp,pHighUp,qHighUp,rHighUp,sHighUp,tHighUp];
var highDns = [aHighDn,bHighDn,cHighDn,dHighDn,eHighDn,fHighDn,gHighDn,hHighDn,iHighDn,jHighDn,kHighDn,lHighDn,mHighDn,nHighDn,oHighDn,pHighDn,qHighDn,rHighDn,sHighDn,tHighDn];

// ---- page geometry (pixels) ----
var W = 1961, H = 2395;
var boxLeft = [94, 592, 1089, 1574];
var boxRight = [478, 976, 1472, 1957];
var boxTop = [47, 528, 1006, 1486, 1960];
var boxBottom = [412, 893, 1371, 1850, 2325];
var letterX = [0, 503, 1000, 1500];

var BLUE = 'rgb(20,45,255)';
var RED = 'rgb(255,15,15)';
var FONT = 'Liberation Sans, Arial, Helvetica, sans-serif';

function fx(x) { return x / W; }
function fy(y) { return 1 - y / H; }

function stepAt(curve, t) {
  var s = curve[0][1];
  for (var k = 0; k < curve.length; k++) {
    if (curve[k][0] <= t) s = curve[k][1]; else break;
  }
  return s;
}

var traces = [];
var annotations = [];
var shapes = [];
var layout = {
  width: W, height: H,
  margin: {l: 0, r: 0, t: 0, b: 0},
  paper_bgcolor: 'white', plot_bgcolor: 'white',
  showlegend: false,
  font: {family: FONT, color: 'black'}
};

for (var i = 0; i < 20; i++) {
  var row = Math.floor(i / 4), col = i % 4;
  var n = i + 1;
  var xa = 'x' + n, ya = 'y' + n;
  var L = boxLeft[col], R = boxRight[col], T = boxTop[row], B = boxBottom[row];

  var ticks = [];
  for (var v = 0; v <= xMaxMonths[i]; v += xTickStep[i]) ticks.push(v);

  layout['xaxis' + n] = {
    domain: [fx(L), fx(R)], anchor: ya, range: [0, xMaxMonths[i]],
    showline: true, mirror: true, linecolor: 'black', linewidth: 2,
    ticks: 'outside', ticklen: 10, tickwidth: 1.5, tickcolor: 'black',
    tickvals: ticks, showgrid: false, zeroline: false,
    tickfont: {size: 17, color: '#111'}, ticklabelstandoff: 7
  };
  layout['yaxis' + n] = {
    domain: [fy(B), fy(T)], anchor: xa, range: [-0.04, 1.04],
    showline: true, mirror: true, linecolor: 'black', linewidth: 2,
    ticks: 'outside', ticklen: 11, tickwidth: 1.5, tickcolor: 'black',
    tickvals: [0, 0.2, 0.4, 0.6, 0.8, 1.0], tickformat: '.1f', tickangle: -90,
    showgrid: false, zeroline: false,
    tickfont: {size: 16, color: '#222'}, ticklabelstandoff: 3
  };

  // confidence bounds
  var cis = [[lowUps[i], BLUE], [lowDns[i], BLUE], [highUps[i], RED], [highDns[i], RED]];
  cis.forEach(function (c) {
    traces.push({
      x: c[0].map(function (p) { return p[0]; }),
      y: c[0].map(function (p) { return p[1]; }),
      xaxis: xa, yaxis: ya, mode: 'lines', hoverinfo: 'skip',
      line: {color: c[1], width: 1.3, dash: 'dot', shape: 'hv'}
    });
  });

  // KM curves + censor marks
  [[lowCurves[i], lowCens[i], BLUE], [highCurves[i], highCens[i], RED]].forEach(function (g) {
    traces.push({
      x: g[0].map(function (p) { return p[0]; }),
      y: g[0].map(function (p) { return p[1]; }),
      xaxis: xa, yaxis: ya, mode: 'lines', hoverinfo: 'skip',
      line: {color: g[2], width: 2.6, shape: 'hv'}
    });
    traces.push({
      x: g[1],
      y: g[1].map(function (t) { return stepAt(g[0], t); }),
      xaxis: xa, yaxis: ya, mode: 'markers', hoverinfo: 'skip',
      marker: {symbol: 'line-ns-open', size: 12, color: g[2], line: {color: g[2], width: 1.6}}
    });
  });

  // panel letter, title, axis titles, cancer label
  annotations.push({xref: 'paper', yref: 'paper', x: fx(letterX[col]), y: fy(T - 23), xanchor: 'left', yanchor: 'middle',
    text: '<b>' + panelLetters[i] + '</b>', showarrow: false, font: {size: 40, family: FONT}});
  annotations.push({xref: 'paper', yref: 'paper', x: fx((L + R) / 2), y: fy(T - 15), xanchor: 'center', yanchor: 'middle',
    text: 'Overall Survival', showarrow: false, font: {size: 22.5}});
  annotations.push({xref: 'paper', yref: 'paper', x: fx((L + R) / 2), y: fy(B + 55), xanchor: 'center', yanchor: 'middle',
    text: 'Months', showarrow: false, font: {size: 21.5}});
  annotations.push({xref: 'paper', yref: 'paper', x: fx(L - 60), y: fy((T + B) / 2), xanchor: 'center', yanchor: 'middle',
    text: 'Percent survival', textangle: -90, showarrow: false, font: {size: 21.5}});
  annotations.push({xref: 'paper', yref: 'paper', x: fx(L + 19), y: fy(B - 24), xanchor: 'left', yanchor: 'middle',
    text: cancerTypes[i], showarrow: false, font: {size: 34}});

  // legend block
  var textStart = R - (geneNames[i].charAt(5) === '2' ? 168 : 158);
  var legRows = [['Low ' + geneNames[i] + ' Group', BLUE, 19], ['High ' + geneNames[i] + ' Group', RED, 34]];
  legRows.forEach(function (lr) {
    shapes.push({type: 'line', xref: 'paper', yref: 'paper',
      x0: fx(textStart - 38), x1: fx(textStart - 7), y0: fy(T + lr[2]), y1: fy(T + lr[2]),
      line: {color: lr[1], width: 3}});
    annotations.push({xref: 'paper', yref: 'paper', x: fx(textStart), y: fy(T + lr[2]), xanchor: 'left', yanchor: 'middle',
      text: lr[0], showarrow: false, font: {size: 15.5}});
  });
  var stats = ['Logrank p=' + logrankP[i], 'HR(high)=' + hrHigh[i], 'p(HR)=' + pHR[i], 'n(high)=' + nHighCount[i], 'n(low)=' + nLowCount[i]];
  stats.forEach(function (s, k) {
    annotations.push({xref: 'paper', yref: 'paper', x: fx(R - 10), y: fy(T + 53 + k * 19.2), xanchor: 'right', yanchor: 'middle',
      text: s, showarrow: false, font: {size: 16}});
  });
}

layout.annotations = annotations;
layout.shapes = shapes;

Plotly.newPlot('fig', traces, layout, {staticPlot: true});
</script>
</body>
</html>
